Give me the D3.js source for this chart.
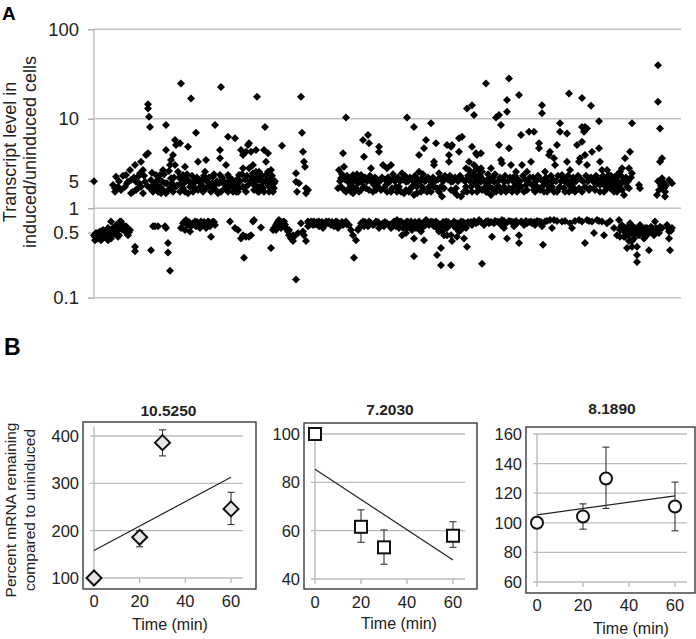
<!DOCTYPE html>
<html><head><meta charset="utf-8">
<script src="https://cdn.jsdelivr.net/npm/d3@7"></script>
<style>body{margin:0;background:#fff}svg{display:block;font-family:Arial,"Liberation Sans",sans-serif}</style>
</head><body><svg id="c" width="696" height="639"></svg>
<script>
// ---------- Panel A data: [gene index along genome, induced/uninduced ratio] ----------
const inducedA = [[0,2.0],[19,1.82],[21,1.67],[21,1.53],[22,2.25],[24,1.74],[32,2.35],[34,1.98],[36,2.68],[37,2.07],[39,1.53],[41,3.04],[42,1.98],[44,1.67],[46,2.46],[47,3.31],[49,2.68],[51,1.98],[52,3.93],[54,4.11],[54,14.5],[54,13.0],[55,10.5],[56,8.1],[57,2.07],[59,1.82],[61,1.67],[62,1.98],[64,1.53],[66,2.35],[67,1.47],[69,2.68],[71,1.9],[72,8.5],[72,4.47],[74,1.6],[76,3.04],[77,3.46],[79,3.93],[81,5.78],[82,5.08],[84,2.56],[86,5.31],[87,1.9],[87,24.8],[89,1.67],[91,2.91],[92,2.16],[94,4.87],[94,1.47],[97,16.9],[97,1.9],[101,1.67],[102,7.0],[104,3.31],[106,1.74],[107,1.9],[111,2.56],[112,3.46],[114,1.74],[117,1.53],[121,8.5],[121,1.82],[124,1.47],[126,3.61],[126,4.47],[127,22.7],[127,1.98],[131,1.67],[132,3.04],[134,6.3],[134,1.53],[137,1.98],[141,6.04],[141,1.67],[27,1.6],[31,1.74],[37,1.47],[42,1.6],[47,1.74],[49,1.47],[56,1.67],[59,1.53],[66,1.74],[69,1.6],[72,1.47],[76,1.67],[79,1.53],[82,1.74],[86,1.53],[91,1.53],[96,1.74],[99,1.53],[104,1.6],[109,1.53],[112,1.67],[116,1.82],[119,1.67],[122,1.6],[127,1.53],[131,1.82],[136,1.74],[139,1.53],[44,2.25],[62,2.35],[77,2.16],[81,3.04],[89,2.35],[101,2.07],[109,2.16],[119,2.25],[126,2.35],[134,2.35],[25,2.0],[29,2.3],[33,1.9],[40,2.2],[45,1.9],[50,2.3],[53,1.8],[58,2.5],[63,1.8],[65,2.1],[68,2.0],[70,2.4],[73,1.9],[75,2.6],[78,1.9],[80,2.2],[83,1.8],[85,2.2],[88,2.1],[90,1.9],[93,2.4],[95,2.0],[98,2.3],[100,1.9],[103,2.2],[105,2.0],[108,1.8],[110,2.3],[113,2.0],[115,2.2],[118,1.9],[120,2.4],[123,2.0],[125,1.9],[128,2.2],[130,2.0],[133,1.9],[135,2.2],[138,2.1],[140,1.9]];
const inducedB = [[142,1.82],[144,1.53],[145,1.98],[147,4.47],[149,3.93],[150,1.67],[152,4.29],[154,5.08],[155,5.31],[155,2.79],[157,4.29],[159,3.04],[159,1.9],[160,1.6],[162,4.47],[162,2.56],[163,17.6],[164,1.53],[165,2.07],[167,1.74],[169,1.67],[170,4.47],[171,8.1],[172,3.31],[172,2.35],[174,4.11],[175,1.82],[175,1.53],[177,2.16],[179,1.98],[180,1.67],[188,5.0],[202,2.46],[202,1.98],[203,1.53],[205,1.9],[207,17.6],[208,7.0],[209,4.29],[210,3.31],[211,2.91],[212,1.67],[212,1.47],[214,1.6],[142,1.53],[145,1.67],[149,1.74],[152,1.53],[154,1.82],[157,1.98],[160,1.82],[164,1.74],[165,1.53],[169,1.98],[170,1.53],[174,1.82],[177,1.67],[179,1.53],[180,1.9],[149,2.79],[145,2.35],[174,2.56],[177,2.68],[159,2.46],[165,2.56],[244,1.67],[245,2.68],[247,2.16],[249,4.11],[250,2.91],[252,10.3],[252,1.53],[254,1.98],[255,1.67],[257,1.82],[259,1.47],[260,2.07],[262,1.67],[264,1.9],[265,1.53],[267,1.98],[269,5.78],[270,3.77],[272,1.67],[274,6.57],[275,5.31],[277,2.79],[279,1.53],[280,1.82],[282,1.98],[284,1.74],[285,4.29],[285,4.87],[289,3.04],[247,1.74],[250,1.6],[257,1.53],[260,1.67],[267,1.6],[270,1.74],[275,1.6],[279,1.9],[282,1.6],[267,2.35],[275,2.16],[259,2.35],[287,1.6],[143,2.1],[146,2.0],[148,2.4],[151,2.1],[153,2.3],[156,2.0],[158,2.2],[161,2.0],[163,2.2],[166,2.1],[168,2.3],[171,2.0],[173,2.1],[176,1.9],[178,2.3],[181,2.0],[246,2.0],[248,2.4],[251,2.1],[253,2.3],[256,2.1],[258,2.0],[261,2.2],[263,2.4],[266,2.1],[268,2.0],[271,2.2],[273,2.0],[276,2.3],[278,2.0],[281,2.2],[283,2.1],[286,2.0],[288,2.2]];
const inducedC = [[290,1.67],[292,1.82],[293,2.79],[295,1.98],[297,3.04],[297,1.53],[298,1.67],[300,2.16],[303,1.53],[305,1.74],[308,2.46],[310,1.47],[312,1.98],[313,10.3],[315,1.53],[317,1.67],[320,8.1],[320,1.41],[322,1.9],[323,1.74],[325,2.56],[325,3.93],[327,1.53],[328,2.16],[330,4.67],[332,5.78],[332,2.07],[333,1.53],[335,1.74],[337,8.9],[338,1.98],[340,3.04],[340,3.31],[342,5.31],[343,1.67],[345,2.46],[347,1.74],[348,1.35],[353,5.08],[355,3.93],[355,3.31],[357,4.87],[357,1.98],[358,5.08],[360,1.53],[362,1.67],[363,1.41],[365,6.04],[365,4.29],[367,1.35],[368,6.3],[370,1.53],[372,2.79],[373,13.0],[375,3.31],[375,2.16],[377,2.35],[378,14.2],[378,4.87],[380,11.0],[380,1.98],[382,4.11],[383,3.93],[383,2.79],[385,2.35],[385,1.67],[387,4.11],[387,1.98],[388,2.56],[390,1.67],[392,1.53],[393,1.82],[392,24.8],[395,2.16],[397,2.79],[397,1.41],[398,1.67],[400,1.98],[402,1.53],[402,10.3],[403,1.74],[405,5.08],[405,11.0],[407,8.5],[407,3.46],[408,3.18],[410,1.74],[412,1.53],[413,16.2],[413,12.0],[415,4.67],[415,28.2],[417,3.04],[418,1.53],[420,2.16],[422,2.56],[423,1.9],[425,18.4],[425,1.67],[427,6.57],[428,3.04],[430,1.53],[432,1.82],[433,2.56],[435,7.16],[437,3.31],[293,1.53],[302,1.74],[307,1.53],[312,1.6],[318,1.74],[323,1.47],[328,1.74],[330,1.6],[337,1.53],[340,1.74],[345,1.53],[350,1.67],[357,1.6],[372,1.74],[373,1.53],[377,1.74],[378,1.53],[382,1.82],[383,1.53],[388,1.6],[393,1.53],[395,1.74],[400,1.6],[405,1.74],[407,1.53],[410,1.98],[415,1.67],[420,1.74],[423,1.53],[427,1.74],[433,1.6],[382,2.68],[375,2.68],[387,2.79],[380,3.04],[291,2.1],[294,2.2],[296,2.0],[299,2.4],[301,2.0],[304,2.2],[306,2.0],[309,2.1],[311,2.3],[314,2.0],[316,2.2],[319,2.0],[321,2.3],[324,2.1],[326,2.0],[329,2.4],[331,2.0],[334,2.2],[336,2.0],[339,2.2],[341,2.0],[344,2.1],[346,2.2],[349,2.0],[351,2.3],[354,2.1],[356,2.3],[359,2.0],[361,2.2],[364,2.0],[366,2.3],[369,2.1],[371,2.0],[374,2.3],[376,2.0],[379,2.4],[381,2.2],[384,2.0],[386,2.3],[389,2.1],[391,2.0],[394,2.4],[396,2.0],[399,2.2],[401,2.4],[404,2.0],[406,2.2],[409,2.1],[411,2.3],[414,2.0],[416,2.2],[419,2.0],[421,2.3],[424,2.1],[426,2.0],[429,2.3],[431,2.1],[434,2.0],[436,2.2]];
const inducedD = [[438,1.82],[440,7.16],[441,1.53],[443,1.74],[445,5.31],[445,4.67],[446,1.6],[448,14.2],[448,11.5],[450,1.98],[451,2.56],[453,1.53],[455,3.93],[456,4.29],[458,1.98],[460,3.61],[461,3.04],[463,5.08],[463,1.53],[465,1.67],[466,8.9],[466,7.16],[468,2.35],[470,1.67],[471,1.98],[473,6.86],[473,3.31],[475,19.2],[475,1.53],[476,2.68],[478,1.82],[480,1.67],[481,1.53],[483,5.08],[485,3.31],[486,3.61],[488,17.1],[488,8.1],[488,5.54],[490,7.16],[491,8.1],[491,3.93],[493,7.8],[493,3.04],[495,2.16],[496,1.67],[497,14.0],[498,4.29],[500,1.98],[501,1.6],[503,2.16],[505,4.67],[505,9.4],[506,3.31],[506,1.82],[508,2.68],[510,1.53],[511,2.07],[513,2.68],[515,1.82],[516,1.67],[518,2.16],[520,1.53],[521,1.9],[523,2.35],[525,1.67],[526,2.56],[528,2.79],[530,1.41],[531,3.61],[533,1.74],[535,2.79],[536,4.29],[538,8.9],[538,2.46],[545,1.82],[546,1.67],[563,1.41],[564,39.7],[564,15.5],[566,7.8],[566,3.31],[568,3.61],[568,2.16],[570,1.67],[571,1.53],[571,1.35],[575,2.07],[578,1.9],[440,1.6],[445,1.67],[450,1.53],[453,1.82],[456,1.67],[460,1.53],[466,1.74],[471,1.53],[475,1.82],[478,1.6],[485,1.67],[488,1.53],[491,1.74],[495,1.6],[500,1.67],[503,1.9],[506,1.53],[510,1.82],[513,1.67],[516,1.9],[520,1.74],[523,1.53],[526,1.82],[528,1.6],[531,1.98],[535,1.67],[508,2.16],[515,2.35],[521,2.25],[478,1.98],[458,1.74],[448,1.74],[565,1.6],[570,1.9],[439,2.2],[442,2.0],[444,2.3],[447,2.1],[449,2.0],[452,2.2],[454,2.0],[457,2.3],[459,2.1],[462,2.0],[464,2.3],[467,2.0],[469,2.2],[472,2.1],[474,2.3],[477,2.0],[479,2.2],[482,2.0],[484,2.3],[487,2.1],[489,2.0],[492,2.3],[494,2.0],[497,2.2],[499,2.0],[502,2.3],[504,2.1],[507,2.0],[509,2.3],[512,2.1],[514,2.0],[517,2.3],[519,2.0],[522,2.2],[524,2.0],[527,2.3],[529,2.0],[532,2.2],[534,2.0],[537,2.2],[564,2.0],[567,1.8],[572,1.8]];
const repressedA = [[0,0.5],[1,0.48],[1,0.44],[2,0.53],[4,0.46],[4,0.53],[6,0.55],[7,0.5],[7,0.44],[9,0.57],[11,0.48],[11,0.55],[12,0.53],[14,0.6],[14,0.44],[16,0.5],[17,0.71],[17,0.46],[19,0.6],[21,0.55],[22,0.65],[24,0.48],[24,0.6],[26,0.71],[27,0.6],[27,0.71],[29,0.65],[31,0.55],[32,0.63],[34,0.5],[36,0.57],[41,0.37],[41,0.33],[57,0.34],[59,0.63],[61,0.63],[64,0.63],[71,0.63],[72,0.6],[74,0.41],[74,0.32],[76,0.2],[87,0.6],[89,0.68],[91,0.57],[92,0.74],[94,0.65],[96,0.55],[97,0.63],[99,0.68],[101,0.71],[102,0.63],[104,0.68],[106,0.6],[107,0.71],[109,0.65],[111,0.68],[112,0.6],[114,0.71],[116,0.63],[117,0.48],[119,0.71],[121,0.65],[136,0.71],[141,0.6],[3,0.5],[5,0.49],[8,0.52],[10,0.5],[13,0.56],[15,0.48],[18,0.54],[20,0.52],[23,0.56],[25,0.5],[28,0.58],[30,0.6],[33,0.56],[35,0.54],[90,0.7],[93,0.66],[95,0.7],[98,0.66],[100,0.68],[103,0.7],[105,0.64],[108,0.68],[110,0.7],[113,0.66],[115,0.7],[118,0.68],[120,0.7]];
const repressedB = [[144,0.57],[147,0.46],[149,0.5],[150,0.28],[152,0.48],[155,0.48],[157,0.5],[159,0.71],[160,0.74],[167,0.61],[177,0.36],[179,0.57],[180,0.6],[182,0.65],[184,0.71],[185,0.74],[187,0.68],[189,0.65],[190,0.71],[192,0.6],[194,0.55],[195,0.5],[197,0.46],[199,0.43],[200,0.48],[202,0.16],[204,0.53],[207,0.68],[209,0.55],[210,0.5],[212,0.43],[214,0.71],[215,0.68],[217,0.71],[219,0.65],[220,0.71],[222,0.68],[224,0.65],[225,0.71],[227,0.68],[229,0.6],[230,0.65],[232,0.71],[234,0.68],[235,0.71],[237,0.65],[239,0.68],[240,0.63],[242,0.65],[244,0.6],[245,0.68],[249,0.65],[252,0.71],[255,0.65],[257,0.57],[259,0.5],[260,0.28],[262,0.44],[264,0.57],[265,0.6],[269,0.71],[270,0.63],[272,0.68],[275,0.71],[279,0.65],[282,0.71],[285,0.6],[289,0.68],[182,0.57],[187,0.6],[190,0.63],[195,0.57],[199,0.5],[214,0.63],[225,0.63],[242,0.71],[274,0.63],[183,0.68],[186,0.66],[188,0.7],[191,0.66],[193,0.58],[216,0.66],[218,0.7],[221,0.66],[223,0.7],[226,0.66],[228,0.7],[231,0.66],[233,0.7],[236,0.68],[238,0.7],[241,0.68],[243,0.7],[246,0.66],[248,0.7],[250,0.68],[253,0.66],[267,0.68],[271,0.7],[277,0.68],[280,0.66],[284,0.7],[287,0.66]];
const repressedC = [[290,0.63],[293,0.68],[297,0.6],[300,0.71],[303,0.74],[305,0.6],[307,0.71],[308,0.5],[310,0.68],[312,0.53],[313,0.6],[315,0.65],[317,0.71],[318,0.57],[320,0.46],[320,0.29],[323,0.65],[325,0.71],[327,0.55],[328,0.6],[330,0.44],[332,0.74],[333,0.71],[335,0.65],[338,0.68],[342,0.71],[343,0.3],[343,0.6],[345,0.55],[347,0.36],[347,0.23],[348,0.65],[350,0.5],[352,0.71],[353,0.6],[355,0.68],[357,0.23],[357,0.5],[358,0.43],[360,0.71],[362,0.6],[363,0.68],[365,0.55],[367,0.71],[368,0.65],[370,0.46],[372,0.6],[373,0.37],[375,0.68],[378,0.65],[382,0.68],[385,0.74],[388,0.24],[390,0.65],[392,0.71],[395,0.68],[398,0.48],[400,0.68],[403,0.71],[407,0.65],[408,0.74],[410,0.6],[412,0.68],[413,0.46],[417,0.71],[420,0.63],[423,0.68],[425,0.5],[425,0.41],[427,0.71],[430,0.65],[433,0.68],[437,0.71],[295,0.65],[302,0.63],[313,0.71],[322,0.6],[337,0.71],[340,0.63],[348,0.55],[353,0.5],[360,0.63],[367,0.57],[363,0.48],[352,0.6],[291,0.7],[296,0.66],[299,0.63],[301,0.68],[304,0.66],[306,0.7],[309,0.6],[311,0.65],[314,0.7],[316,0.66],[319,0.62],[321,0.7],[324,0.6],[326,0.66],[329,0.68],[331,0.64],[334,0.7],[336,0.68],[339,0.7],[341,0.66],[344,0.68],[346,0.64],[349,0.7],[351,0.66],[354,0.7],[356,0.66],[359,0.68],[361,0.66],[364,0.6],[366,0.66],[369,0.7],[371,0.68],[374,0.7],[377,0.7],[380,0.72],[384,0.7],[387,0.7],[391,0.68],[394,0.72],[397,0.7],[401,0.72],[405,0.7],[410,0.72],[415,0.72],[419,0.7],[422,0.72],[428,0.7],[432,0.72],[435,0.7]];
const repressedD = [[438,0.68],[441,0.65],[445,0.71],[448,0.63],[449,0.39],[451,0.71],[456,0.74],[458,0.6],[460,0.74],[468,0.71],[476,0.68],[478,0.6],[485,0.74],[488,0.71],[491,0.41],[493,0.74],[498,0.71],[500,0.53],[503,0.74],[508,0.71],[510,0.5],[513,0.68],[520,0.6],[523,0.5],[525,0.74],[526,0.48],[528,0.65],[530,0.55],[531,0.6],[533,0.36],[535,0.5],[536,0.68],[538,0.55],[538,0.43],[540,0.46],[541,0.6],[543,0.37],[543,0.3],[543,0.25],[545,0.5],[546,0.65],[548,0.55],[550,0.46],[551,0.6],[553,0.5],[555,0.34],[556,0.55],[558,0.6],[560,0.5],[561,0.71],[563,0.55],[565,0.53],[573,0.65],[575,0.55],[575,0.46],[576,0.34],[578,0.6],[526,0.57],[531,0.48],[536,0.6],[540,0.53],[545,0.57],[550,0.57],[555,0.55],[560,0.57],[553,0.6],[535,0.43],[538,0.37],[530,0.48],[440,0.7],[443,0.72],[447,0.7],[453,0.72],[463,0.72],[471,0.72],[481,0.72],[495,0.72],[505,0.72],[516,0.72],[527,0.62],[529,0.58],[532,0.56],[534,0.62],[537,0.58],[539,0.62],[542,0.54],[544,0.6],[547,0.6],[549,0.52],[552,0.56],[554,0.58],[557,0.62],[559,0.55],[562,0.6],[564,0.58],[566,0.62],[568,0.6],[574,0.6],[577,0.56]];
const geneIndexMax = 587;
const panelATickValues = [0.1, 0.534, 1, 2.02, 10, 100];
const panelATickLabels = ["0.1", "0.5", "1", "5", "10", "100"];
const panelAGridValues = [0.1, 1, 10, 100];

// ---------- Panel B data ----------
const timeMin = [0, 20, 30, 60];
const timeTicks = [0, 20, 40, 60];
const titles = ["10.5250", "7.2030", "8.1890"];
const pct10525 = [100, 186, 386, 246];
const lo10525 = [100, 166, 358, 213];
const hi10525 = [100, 200, 413, 281];
const trend10525 = [158, 313];
const pct72030 = [100, 61.6, 53.1, 57.9];
const lo72030 = [100, 55.2, 46.1, 53.1];
const hi72030 = [100, 68.6, 60.3, 63.7];
const trend72030 = [85.4, 47.9];
const pct81890 = [100, 104.3, 129.9, 111];
const lo81890 = [100, 95.7, 109.7, 94.6];
const hi81890 = [100, 112.8, 151.1, 127.5];
const trend81890 = [105.4, 118.2];
const yTicks10525 = [100, 200, 300, 400];
const yTicks72030 = [40, 60, 80, 100];
const yTicks81890 = [60, 80, 100, 120, 140, 160];

const svg = d3.select("#c");

// ---------------- Panel A ----------------
svg.append("text").attr("x", 2).attr("y", 20).style("font-size", "19px").attr("font-weight", "bold").text("A");
const ax = d3.scaleLinear().domain([0, geneIndexMax]).range([94, 681]);
const ay = d3.scaleLog().domain([0.1, 100]).range([297.7, 29.3]);
const gA = svg.append("g");
gA.selectAll("line.grid").data(panelAGridValues).join("line")
  .attr("x1", ax(0)).attr("x2", ax(geneIndexMax)).attr("y1", d => ay(d)).attr("y2", d => ay(d))
  .attr("stroke", "#c2c2c2").attr("stroke-width", 1.5);
gA.append("line").attr("x1", ax(0)).attr("x2", ax(0)).attr("y1", ay(100)).attr("y2", ay(0.1))
  .attr("stroke", "#c2c2c2").attr("stroke-width", 1.5);
const yAxisA = d3.axisLeft(ay).tickValues(panelATickValues).tickFormat("").tickSize(6);
const gAxA = gA.append("g").attr("transform", `translate(${ax(0)},0)`).call(yAxisA);
gAxA.select(".domain").remove();
gAxA.selectAll(".tick line").attr("stroke", "#b0b0b0").attr("stroke-width", 1.5);
gA.selectAll("text.ylbl").data(panelATickValues).join("text")
  .attr("x", ax(0) - 15).attr("y", d => ay(d)).attr("dy", "0.36em").attr("text-anchor", "end")
  .style("font-size", "18.5px").attr("fill", "#222").text((d, i) => panelATickLabels[i]);
const ylabA = svg.append("g").style("font-size", "18px").attr("fill", "#222").attr("text-anchor", "middle");
ylabA.append("text").attr("transform", "translate(15.5,152) rotate(-90)").text("Transcript level in");
ylabA.append("text").attr("transform", "translate(36,152) rotate(-90)").text("induced/uninduced cells");

const allPoints = [].concat(repressedA, repressedB, repressedC, repressedD, inducedA, inducedB, inducedC, inducedD);
const dr = 4;
gA.selectAll("path.pt").data(allPoints).join("path")
  .attr("d", `M0,${-dr}L${dr},0L0,${dr}L${-dr},0Z`)
  .attr("transform", d => `translate(${ax(d[0])},${ay(d[1])})`)
  .attr("fill", "#000");

// ---------------- Panel B ----------------
svg.append("text").attr("x", 4).attr("y", 355).style("font-size", "23px").attr("font-weight", "bold").text("B");
const ylabB = svg.append("g").style("font-size", "15.5px").attr("fill", "#222").attr("text-anchor", "middle");
ylabB.append("text").attr("transform", "translate(16,510) rotate(-90)").text("Percent mRNA remaining");
ylabB.append("text").attr("transform", "translate(35,510) rotate(-90)").text("compared to uninduced");

const charts = [
  {title: titles[0], v: pct10525, lo: lo10525, hi: hi10525, tr: trend10525, ticks: yTicks10525, yMax: 420, marker: "diamond",
   box: [83, 422, 256, 589], xr: [94, 231], yr: [578, 436], titleY: 416, timeX: 170, timeY: 630},
  {title: titles[1], v: pct72030, lo: lo72030, hi: hi72030, tr: trend72030, ticks: yTicks72030, yMax: 103, marker: "square",
   box: [304, 423, 477, 589], xr: [315, 453], yr: [579, 434], titleY: 415, timeX: 399, timeY: 629},
  {title: titles[2], v: pct81890, lo: lo81890, hi: hi81890, tr: trend81890, ticks: yTicks81890, yMax: 160, marker: "circle",
   box: [526, 427, 695, 593], xr: [537, 675], yr: [582, 434], titleY: 414, timeX: 631, timeY: 634}
];

charts.forEach(c => {
  const g = svg.append("g");
  const yMin = c.ticks[0], yTop = c.ticks[c.ticks.length - 1];
  const x = d3.scaleLinear().domain([0, 60]).range(c.xr);
  const y = d3.scaleLinear().domain([yMin, yTop]).range(c.yr);
  const xEnd = x(65.2);
  g.append("rect").attr("x", c.box[0]).attr("y", c.box[1]).attr("width", c.box[2] - c.box[0]).attr("height", c.box[3] - c.box[1])
    .attr("fill", "none").attr("stroke", "#3a3a3a").attr("stroke-width", 1.4);
  g.selectAll("line.grid").data(c.ticks).join("line")
    .attr("x1", x(0) - 4).attr("x2", xEnd).attr("y1", d => y(d)).attr("y2", d => y(d))
    .attr("stroke", "#bdbdbd").attr("stroke-width", 1.3);
  g.append("line").attr("x1", x(0)).attr("x2", x(0)).attr("y1", y(c.yMax)).attr("y2", y(yMin) + 5)
    .attr("stroke", "#b5b5b5").attr("stroke-width", 1.3);
  g.selectAll("line.xt").data(timeTicks.slice(1)).join("line")
    .attr("x1", d => x(d)).attr("x2", d => x(d)).attr("y1", y(yMin)).attr("y2", y(yMin) + 5)
    .attr("stroke", "#b5b5b5").attr("stroke-width", 1.3);
  g.selectAll("text.yt").data(c.ticks).join("text")
    .attr("x", x(0) - 15).attr("y", d => y(d)).attr("dy", "0.36em").attr("text-anchor", "end")
    .style("font-size", "16.5px").attr("fill", "#222").text(d => d);
  g.selectAll("text.xt").data(timeTicks).join("text")
    .attr("x", d => x(d)).attr("y", y(yMin) + 29).attr("text-anchor", "middle")
    .style("font-size", "16.5px").attr("fill", "#222").text(d => d);
  g.append("text").attr("x", c.timeX).attr("y", c.timeY).attr("text-anchor", "middle").style("font-size", "16px").attr("fill", "#222").text("Time (min)");
  g.append("text").attr("x", (x(0) + xEnd) / 2).attr("y", c.titleY).attr("text-anchor", "middle")
    .style("font-size", "15.5px").attr("font-weight", "bold").attr("fill", "#222").text(c.title);
  g.append("line").attr("x1", x(0)).attr("x2", x(60)).attr("y1", y(c.tr[0])).attr("y2", y(c.tr[1]))
    .attr("stroke", "#222").attr("stroke-width", 1.2);
  const idx = d3.range(timeMin.length).filter(i => c.hi[i] !== c.lo[i]);
  const eb = g.append("g").attr("stroke", "#333").attr("stroke-width", 1.1);
  idx.forEach(i => {
    const xx = x(timeMin[i]);
    eb.append("line").attr("x1", xx).attr("x2", xx).attr("y1", y(c.hi[i])).attr("y2", y(c.lo[i]));
    eb.append("line").attr("x1", xx - 3.5).attr("x2", xx + 3.5).attr("y1", y(c.hi[i])).attr("y2", y(c.hi[i]));
    eb.append("line").attr("x1", xx - 3.5).attr("x2", xx + 3.5).attr("y1", y(c.lo[i])).attr("y2", y(c.lo[i]));
  });
  const m = g.selectAll("g.m").data(timeMin.map((t, i) => [t, c.v[i]])).join("g")
    .attr("transform", d => `translate(${x(d[0])},${y(d[1])})`);
  if (c.marker === "diamond") {
    m.append("path").attr("d", "M0,-7.5L7.5,0L0,7.5L-7.5,0Z").attr("fill", "#e6e6e6").attr("stroke", "#111").attr("stroke-width", 2);
  } else if (c.marker === "square") {
    m.append("rect").attr("x", -6).attr("y", -6).attr("width", 12).attr("height", 12).attr("fill", "#fff").attr("stroke", "#111").attr("stroke-width", 2);
  } else {
    m.append("circle").attr("r", 6).attr("fill", "#fff").attr("stroke", "#111").attr("stroke-width", 2);
  }
});
</script></body></html>
